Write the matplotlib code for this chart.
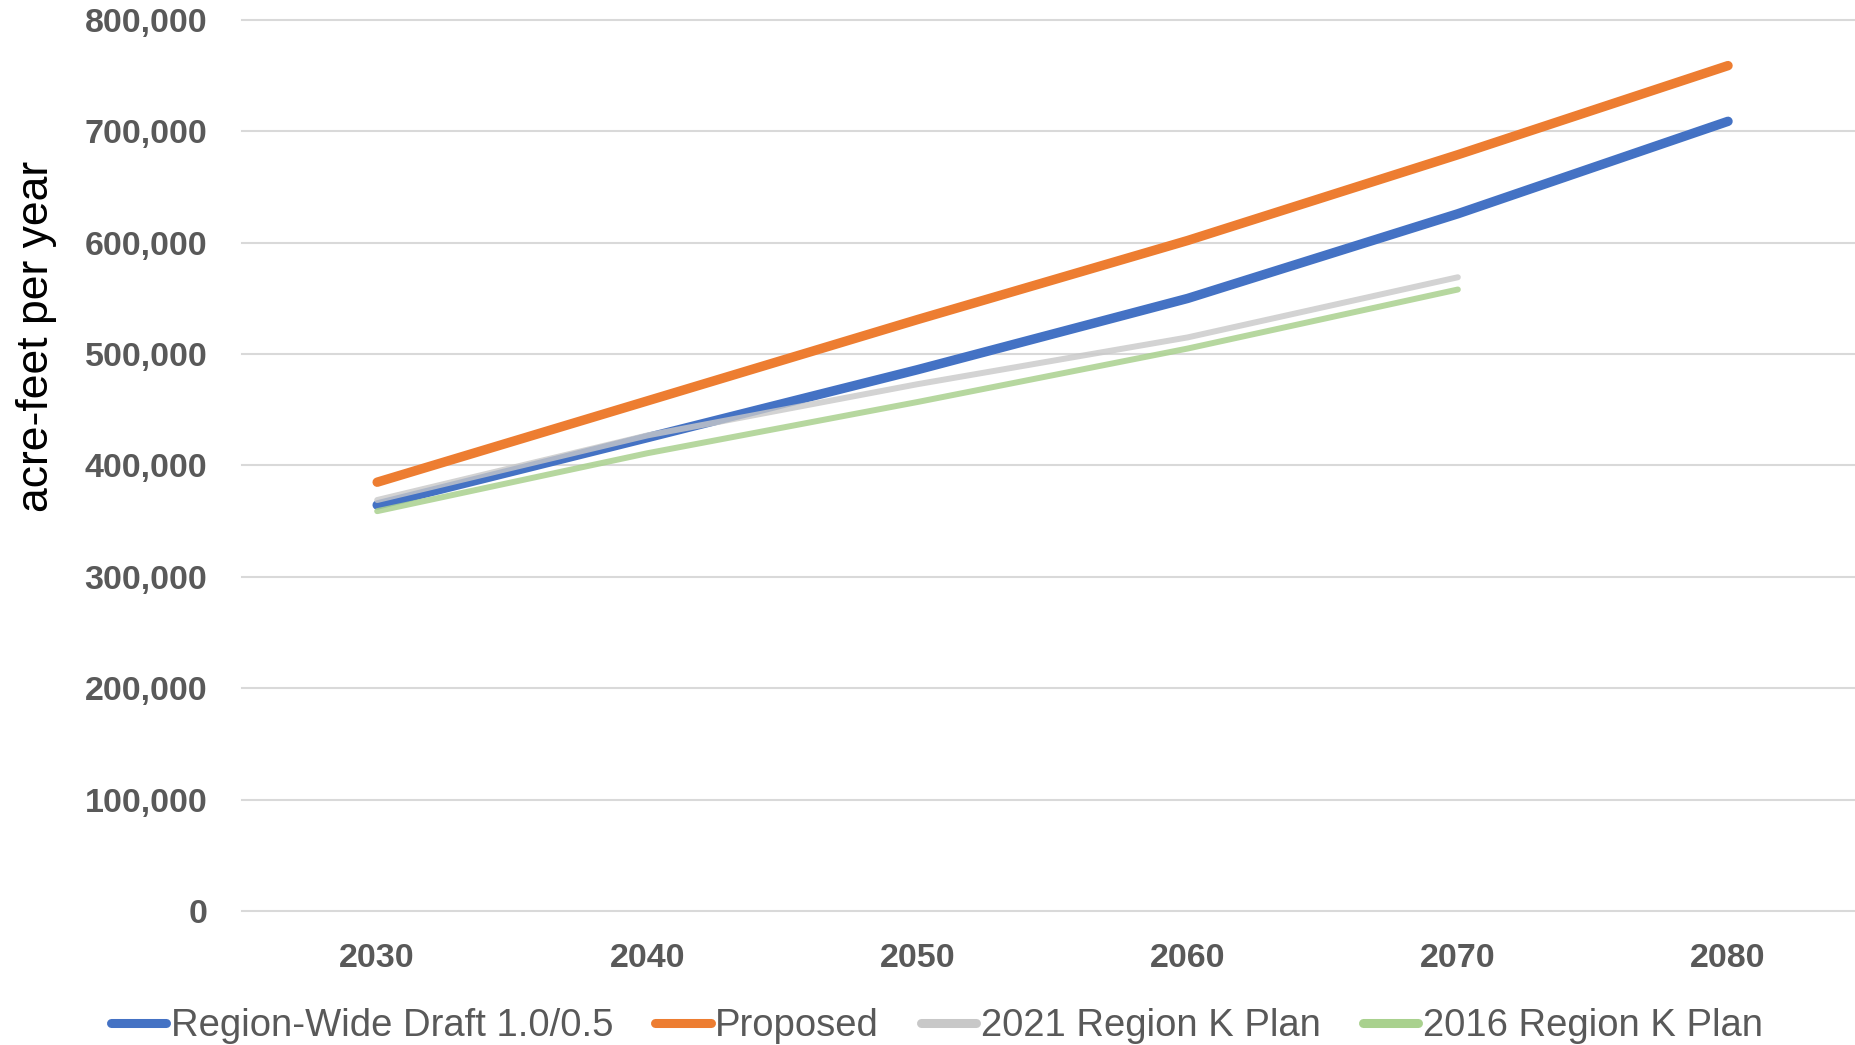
import matplotlib.pyplot as plt
from matplotlib.ticker import FuncFormatter

# Step 1: Chart data
years = ['2030', '2040', '2050', '2060', '2070', '2080']
region_wide = [364500, 425000, 486000, 550000, 626000, 709000]
proposed = [385000, 458000, 531000, 602000, 679000, 759000]
plan_2021 = [369000, 427000, 473000, 515000, 569000]
plan_2016 = [359000, 411000, 457000, 505000, 558000]
y_ticks = [0, 100000, 200000, 300000, 400000, 500000, 600000, 700000, 800000]

# Step 2: Figure layout
fig = plt.figure(figsize=(18.55, 10.45), dpi=100)
ax = fig.add_axes([0.1305, 0.1282, 0.8695, 0.8527])

x_all = list(range(len(years)))
x_short = x_all[:len(plan_2021)]

ax.plot(x_all, region_wide, color='#4472C4', linewidth=6.8, solid_capstyle='round',
        label='Region-Wide Draft 1.0/0.5', zorder=3)
ax.plot(x_all, proposed, color='#ED7D31', linewidth=6.8, solid_capstyle='round',
        label='Proposed', zorder=3)
ax.plot(x_short, plan_2021, color='#C8C8C8', linewidth=4.3, solid_capstyle='round',
        alpha=0.8, label='2021 Region K Plan', zorder=4)
ax.plot(x_short, plan_2016, color='#A9D18E', linewidth=4.3, solid_capstyle='round',
        alpha=0.85, label='2016 Region K Plan', zorder=4)

# Step 3: Axes styling
ax.set_xlim(-0.5, 5.47)
ax.set_ylim(0, 800000)
ax.set_xticks(x_all)
ax.set_xticklabels(years)
ax.set_yticks(y_ticks)
ax.yaxis.set_major_formatter(FuncFormatter(lambda v, p: f'{int(v):,}'))

for spine in ax.spines.values():
    spine.set_visible(False)
ax.grid(axis='y', color='#D9D9D9', linewidth=1.5)
ax.set_axisbelow(True)
for gl in ax.get_ygridlines():
    gl.set_clip_on(False)

ax.tick_params(axis='both', length=0, labelsize=24.5, labelcolor='#595959')
ax.tick_params(axis='y', pad=25)
ax.tick_params(axis='x', pad=23)
for lbl in ax.get_xticklabels() + ax.get_yticklabels():
    lbl.set_fontweight('bold')
    lbl.set_fontfamily('Liberation Sans')

fig.text(37 / 1855, 1 - 336.6 / 1045, 'acre-feet per year', rotation=90,
         ha='center', va='center', fontsize=32, family='Liberation Sans', color='black')

# Step 4: Legend along the bottom
leg = fig.legend(loc='center', bbox_to_anchor=(0.505, 0.018), ncol=4, frameon=False,
                 prop={'family': 'Liberation Sans', 'size': 27.5},
                 handlelength=1.45, handletextpad=0.12, columnspacing=1.1,
                 borderaxespad=0, borderpad=0)
for text in leg.get_texts():
    text.set_color('#595959')
for line in leg.get_lines():
    line.set_linewidth(6.5)
    line.set_alpha(1)

plt.savefig('out.png', dpi=100)
